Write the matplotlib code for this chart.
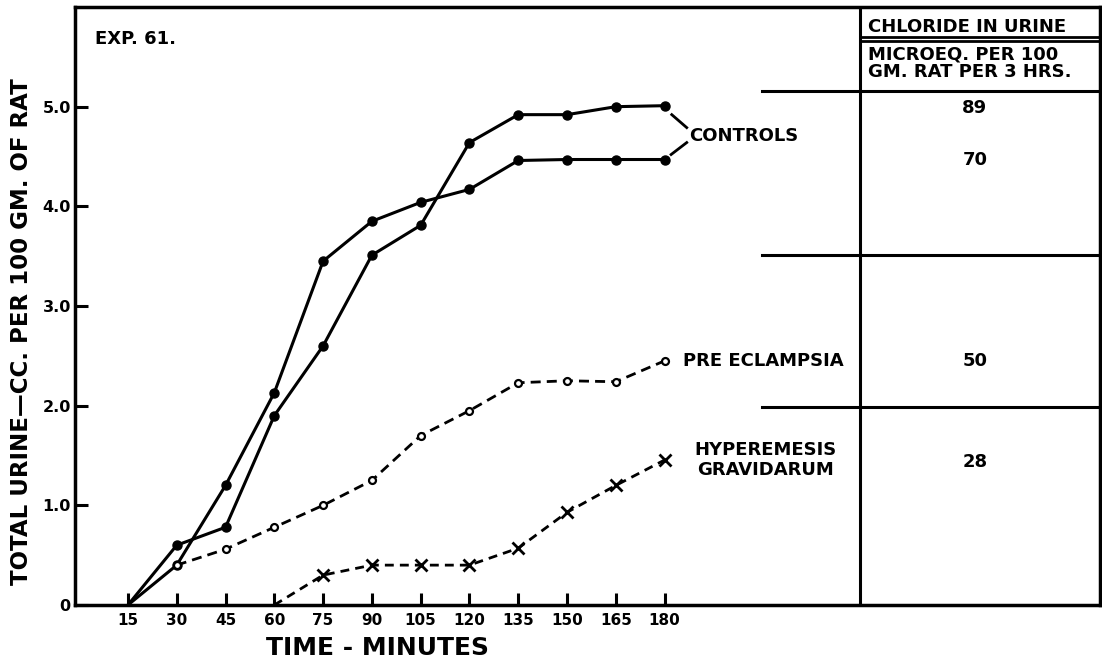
import matplotlib
matplotlib.use("Agg")
import matplotlib.pyplot as plt

plt.rcParams['font.family'] = ['DejaVu Sans']
plt.rcParams['font.weight'] = 'bold'

# time points (minutes)
minutes = [15, 30, 45, 60, 75, 90, 105, 120, 135, 150, 165, 180]

# cumulative urine, cc per 100 gm of rat
control_a = [0, 0.40, 1.20, 2.13, 3.45, 3.85, 4.04, 4.17, 4.46, 4.47, 4.47, 4.47]
control_b = [0, 0.60, 0.78, 1.90, 2.60, 3.51, 3.81, 4.64, 4.92, 4.92, 5.00, 5.01]
pre_eclampsia = [0, 0.40, 0.56, 0.78, 1.00, 1.25, 1.70, 1.95, 2.23, 2.25, 2.24, 2.45]
hyper_minutes = [60, 75, 90, 105, 120, 135, 150, 165, 180]
hyperemesis = [0, 0.30, 0.40, 0.40, 0.40, 0.57, 0.93, 1.20, 1.455]

# chloride in urine, microeq per 100 gm rat per 3 hrs
chloride = {'control_b': 89, 'control_a': 70, 'pre': 50, 'hyper': 28}

y_ticks = [0, 1, 2, 3, 4, 5]
y_labels = ['0', '1.0', '2.0', '3.0', '4.0', '5.0']

fig = plt.figure(figsize=(11.02, 6.62), dpi=100)
ax = fig.add_axes([0.068, 0.0861, 0.930, 0.9033])

solid = dict(color='black', lw=2.2, marker='o', ms=6.5, markevery=slice(1, None))
ax.plot(minutes, control_a, **solid)
ax.plot(minutes, control_b, **solid)
ax.plot(minutes[1:], pre_eclampsia[1:], color='black', lw=2.0, dashes=(3.6, 2.2),
        marker='o', ms=5, mfc='white', mec='black', mew=1.6)
ax.plot(hyper_minutes, hyperemesis, color='black', lw=2.0, dashes=(3.2, 2.2),
        marker='x', ms=9, mew=2.0, markevery=slice(1, None))

ax.set_xlim(-1.3, 313.8)
ax.set_ylim(0, 6.0)
ax.set_xticks(minutes)
ax.set_xticklabels([str(m) for m in minutes], fontsize=11, fontweight='bold')
ax.set_yticks(y_ticks)
ax.set_yticklabels(y_labels, fontsize=11.5, fontweight='bold')
ax.tick_params(direction='in', length=9, width=2.2)
ax.tick_params(axis='y', pad=3)
ax.tick_params(axis='x', pad=6)
for s in ax.spines.values():
    s.set_linewidth(2.5)

ax.set_xlabel('TIME - MINUTES', fontsize=18, fontweight='bold')
ax.xaxis.set_label_coords(0.295, -0.052)
ax.set_ylabel('TOTAL URINE\u2014CC. PER 100 GM. OF RAT', fontsize=16.5, fontweight='bold')
ax.yaxis.set_label_coords(-0.041, 0.457)

lbl = dict(fontsize=13, fontweight='bold')
ax.text(0.0195, 0.946, 'EXP. 61.', transform=ax.transAxes, va='center', **lbl)

# series labels
ax.plot([182.2, 186.8], [4.92, 4.79], color='black', lw=2)
ax.plot([182.0, 186.8], [4.52, 4.64], color='black', lw=2)
ax.text(187.5, 4.71, 'CONTROLS', va='center', **lbl)
ax.text(185.6, pre_eclampsia[-1], 'PRE ECLAMPSIA', va='center', **lbl)
ax.text(211, hyperemesis[-1], 'HYPEREMESIS\nGRAVIDARUM', va='center', ha='center',
        linespacing=1.2, **lbl)

# chloride table
ax.axvline(240, color='black', lw=2.2)
for yy in [5.16, 3.51, 1.99]:
    ax.plot([210, 313.8], [yy, yy], color='black', lw=2.2)
ax.plot([240, 313.8], [5.70, 5.70], color='black', lw=2)
ax.plot([240, 313.8], [5.66, 5.66], color='black', lw=2)
ax.text(242.5, 5.80, 'CHLORIDE IN URINE', va='center', **lbl)
ax.text(242.5, 5.52, 'MICROEQ. PER 100', va='center', **lbl)
ax.text(242.5, 5.35, 'GM. RAT PER 3 HRS.', va='center', **lbl)
ax.text(275.4, control_b[-1] - 0.02, str(chloride['control_b']), ha='center', va='center', **lbl)
ax.text(275.4, control_a[-1], str(chloride['control_a']), ha='center', va='center', **lbl)
ax.text(275.4, pre_eclampsia[-1], str(chloride['pre']), ha='center', va='center', **lbl)
ax.text(275.4, hyperemesis[-1] - 0.02, str(chloride['hyper']), ha='center', va='center', **lbl)

fig.savefig('out.png', dpi=100)
